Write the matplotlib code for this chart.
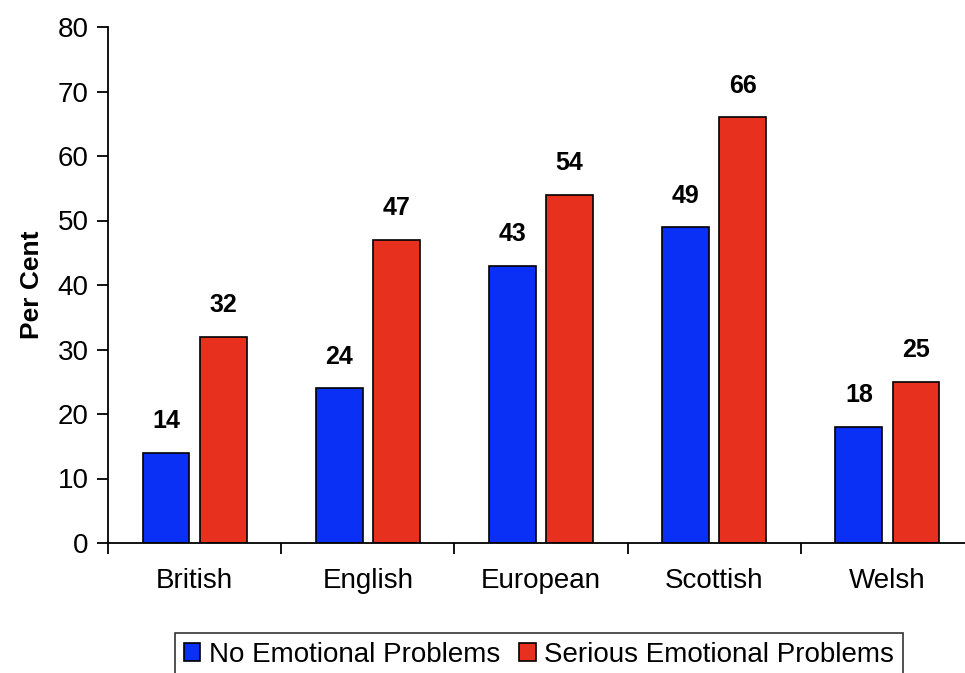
import numpy as np
import matplotlib.pyplot as plt

plt.rcParams['font.family'] = ['Liberation Sans', 'DejaVu Sans']

# data
groups = ['British', 'English', 'European', 'Scottish', 'Welsh']
no_problems = [14, 24, 43, 49, 18]
serious_problems = [32, 47, 54, 66, 25]

blue = '#0a2ff5'
red = '#e8301f'

fig = plt.figure(figsize=(9.65, 6.73), dpi=100)
# axes runs a little past the right edge, like the original
ax = fig.add_axes([108 / 965, (673 - 543) / 673, 866 / 965, 516 / 673])

x = np.arange(len(groups))
w = 0.27
b1 = ax.bar(x - 0.165, no_problems, w, color=blue, edgecolor='black', linewidth=1.2,
            label='No Emotional Problems')
b2 = ax.bar(x + 0.165, serious_problems, w, color=red, edgecolor='black', linewidth=1.2,
            label='Serious Emotional Problems')

# value labels above bars
for bars in (b1, b2):
    for r in bars:
        ax.annotate(str(int(r.get_height())), (r.get_x() + r.get_width() / 2, r.get_height()),
                    xytext=(0, 14), textcoords='offset points', ha='center', va='bottom',
                    fontsize=18, fontweight='bold')

ax.set_xlim(-0.5, len(groups) - 0.5)
ax.set_ylim(0, 80)
ax.set_yticks(range(0, 81, 10))
ax.tick_params(axis='y', labelsize=20, length=8, width=1.3, direction='out', pad=6)
ax.set_xticks(x)
ax.set_xticklabels(groups, fontsize=20)
ax.tick_params(axis='x', length=0, pad=18)
# category boundary ticks on the x axis
ax.set_xticks(np.arange(len(groups)) - 0.5, minor=True)
ax.tick_params(axis='x', which='minor', length=8, width=1.3)

for s in ['top', 'right']:
    ax.spines[s].set_visible(False)
ax.spines['left'].set_linewidth(1.3)
ax.spines['bottom'].set_linewidth(1.3)

ax.set_ylabel('Per Cent', fontsize=19, fontweight='bold', labelpad=10)

leg = fig.legend(loc='lower center', bbox_to_anchor=(539 / 965, -0.025), ncol=2, fontsize=20,
                 frameon=True, fancybox=False, edgecolor='black', handlelength=0.6,
                 handleheight=0.6, handletextpad=0.3, columnspacing=0.7, borderpad=0.3)
leg.get_frame().set_linewidth(1.2)
for h in leg.legend_handles:
    h.set_edgecolor('black')

fig.savefig('out.png', dpi=100)
